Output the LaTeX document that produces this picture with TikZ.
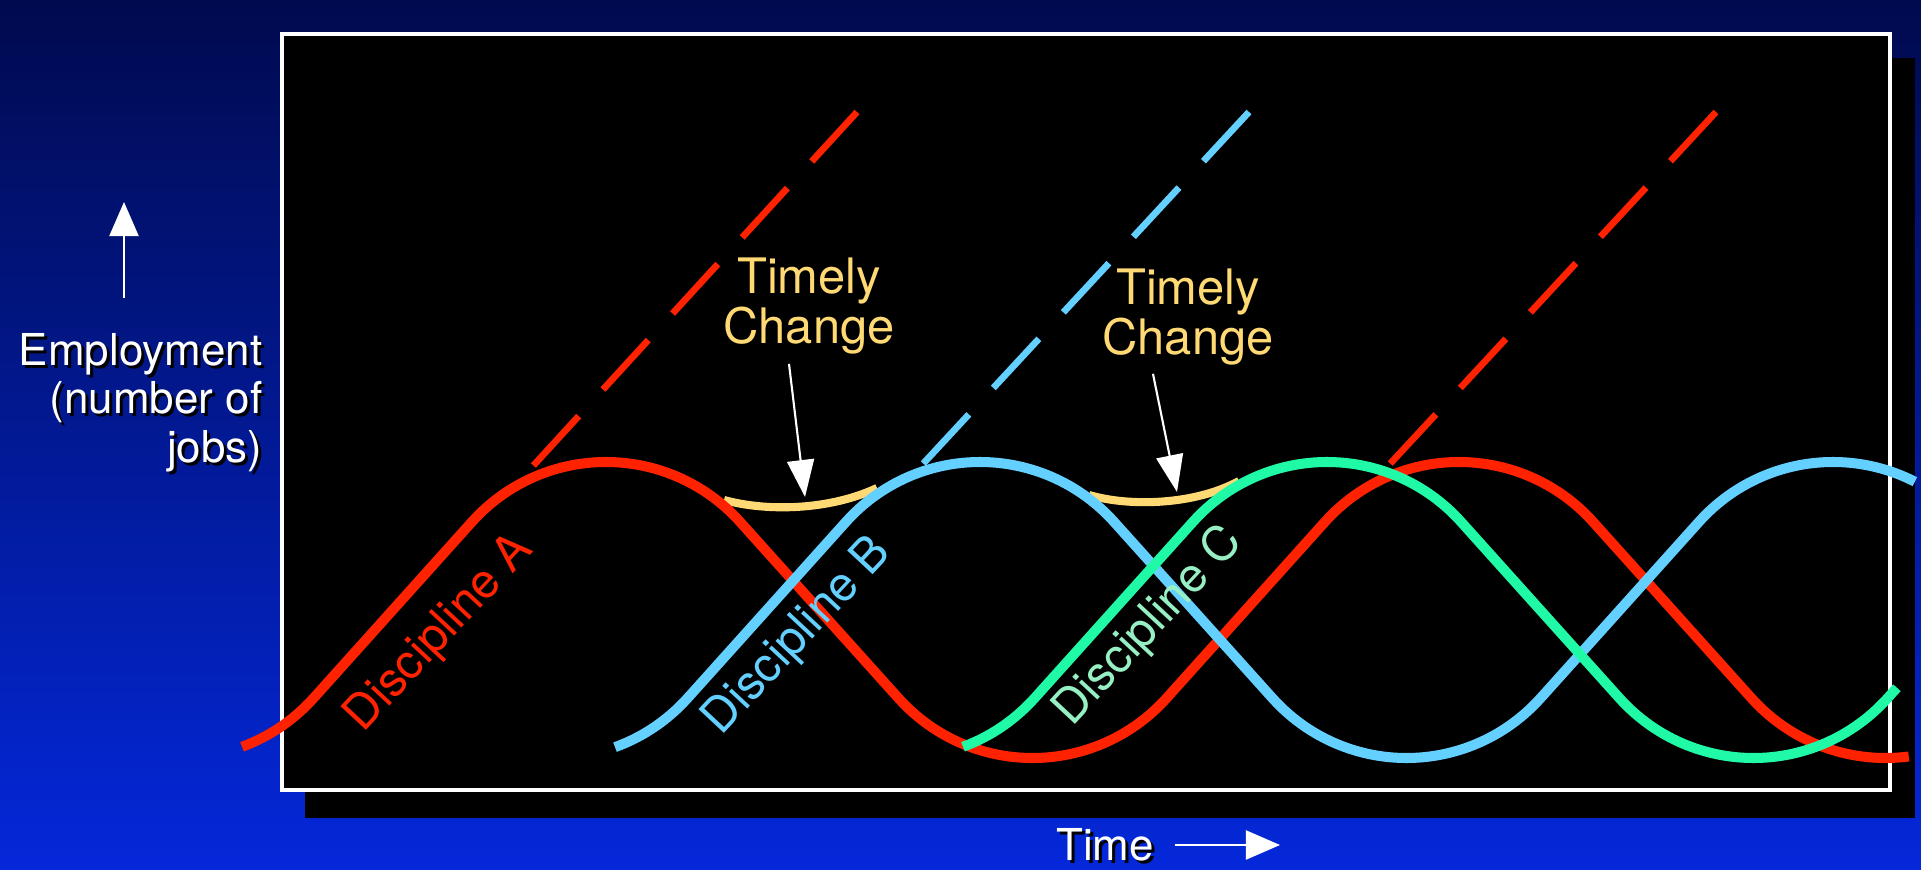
\documentclass[tikz,border=0pt]{standalone}
\usepackage{fontspec}
\setmainfont{TeX Gyre Heros}
\usetikzlibrary{arrows.meta,positioning}
\definecolor{discA}{RGB}{255,34,0}
\definecolor{discB}{RGB}{100,208,255}
\definecolor{discC}{RGB}{32,250,166}
\definecolor{discCtxt}{RGB}{150,240,195}
\definecolor{timely}{RGB}{255,217,115}
\definecolor{skytop}{RGB}{0,10,78}
\definecolor{skybot}{RGB}{4,40,218}

\begin{document}
\begin{tikzpicture}[
  x=0.01cm,y=-0.01cm,
  declare function={
    pkdist(\uu)=min(mod(\uu+85.3,8.53),8.53-mod(\uu+85.3,8.53));
    hump(\dd)=(\dd<1.339)?(6.42-sqrt(max(0,3.24-\dd*\dd))):((\dd>2.926)?(5.78+sqrt(max(0,3.24-(4.265-\dd)*(4.265-\dd)))):(5.217+1.113*(\dd-1.339)));
    jobs(\tm,\pk)=100*hump(pkdist(\tm-\pk));
  },
  wave/.style={line width=2.85pt},
  trend/.style={line width=1.9pt,dash pattern=on 0.67cm off 0.36cm},
  bridge/.style={line width=2.3pt,timely},
  ptr/.style={-{Triangle[length=0.37cm,width=0.27cm]},white,line width=0.6pt},
  axarr/.style={-{Triangle[length=0.34cm,width=0.29cm]},white,line width=0.6pt},
  axlbl/.style={font=\fontsize{12.5}{13.7}\selectfont,inner sep=0pt,align=right},
  chg/.style={font=\fontsize{13.9}{14.2}\selectfont,text=timely,inner sep=0pt,align=center},
  disc/.style={font=\fontsize{13.6}{14}\selectfont,inner sep=0pt,rotate=47}
]
% backdrop and chart panel
\shade[top color=skytop,bottom color=skybot] (0,0) rectangle (1921,870);
\fill[black] (305,58) rectangle (1915,818);
\draw[white,line width=0.9pt,fill=black] (282,34) rectangle (1890,790);

% growth that would have continued
\draw[trend,discA] (857,112) -- (533,466);
\draw[trend,discB] (1249,112) -- (921,466);
\draw[trend,discA] (1716,112) -- (1388,466);

% the timely changes
\draw[bridge] (724,500) .. controls (768,512) and (830,510) .. (877,488);
\draw[bridge] (1089,495) .. controls (1130,507) and (1195,505) .. (1239,481);

% employment cycles
\draw[wave,discA] plot[domain=2.42:19.09,samples=500] ({100*\x},{jobs(\x,6.06)});
\draw[wave,discB] plot[domain=6.15:19.15,samples=400] ({100*\x},{jobs(\x,9.80)});
\draw[wave,discC] plot[domain=9.63:18.97,samples=300] ({100*\x},{jobs(\x,13.27)});

\node[disc,text=discA] (lblA) at (440,634) {Discipline A};
\node[disc,text=discB] (lblB) at (798,637) {Discipline B};
\node[disc,text=discCtxt] (lblC) at (1149,627) {Discipline C};

\node[chg] (chgAB) at (809,306) {Timely\\Change};
\node[chg] (chgBC) at (1188,317) {Timely\\Change};
\coordinate (gapAB) at (805,497);
\coordinate (gapBC) at (1177,492);
\draw[ptr] ([xshift=-0.2cm,yshift=-0.09cm]chgAB.south) -- (gapAB);
\draw[ptr] ([xshift=-0.35cm,yshift=-0.08cm]chgBC.south) -- (gapBC);

% axes
\node[axlbl,text=black,anchor=north east] (empsh) at (266,336) {Employment\\(number of\\jobs)};
\node[axlbl,text=white,anchor=north east] (emp) at (263,333) {Employment\\(number of\\jobs)};
\coordinate (upfoot) at (124,298);
\coordinate (uptip) at (124,202);
\draw[axarr] (upfoot) -- (uptip);
\node[axlbl,text=black] (timesh) at (1108,848) {Time};
\node[axlbl,text=white] (time) at (1105,845) {Time};
\coordinate (timetip) at (1280,845);
\draw[axarr] ([xshift=0.2cm]time.east) -- (timetip);
\end{tikzpicture}
\end{document}
